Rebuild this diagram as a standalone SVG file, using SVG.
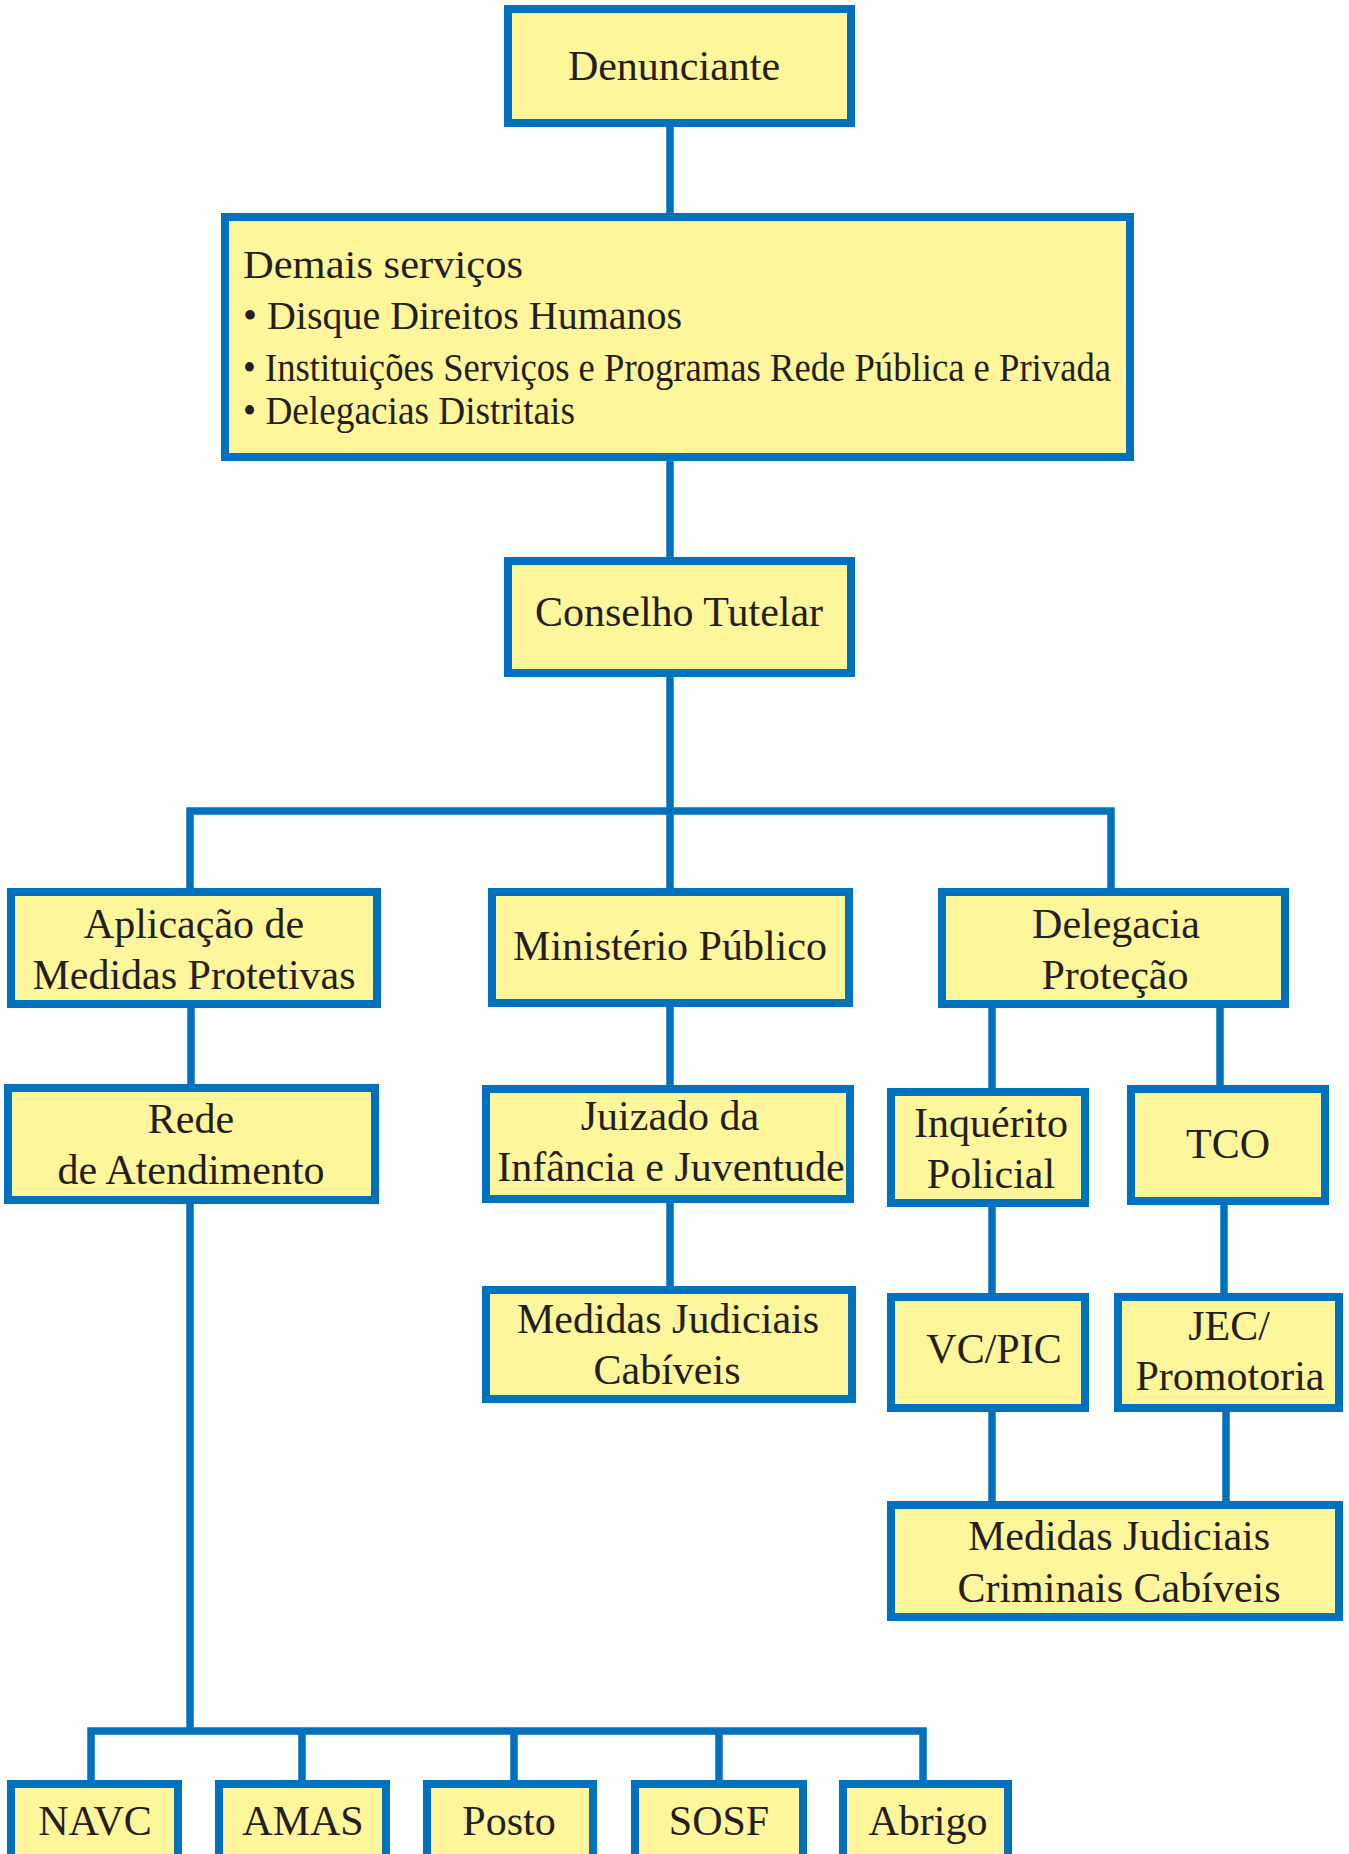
<svg xmlns="http://www.w3.org/2000/svg" width="1349" height="1854" viewBox="0 0 1349 1854">
<style>
.box{fill:#FFF59B;stroke:#0071BC;stroke-width:8}
.ln{fill:none;stroke:#0071BC;stroke-width:7.5;stroke-linejoin:miter;stroke-linecap:butt}
.t{font-family:"Liberation Serif","Times New Roman",serif;font-size:42px;fill:#231F20;text-anchor:middle}
.tl{font-family:"Liberation Serif","Times New Roman",serif;font-size:40px;fill:#231F20}
</style>
<rect width="1349" height="1854" fill="#FFFFFF"/>
<g id="connectors">
<path class="ln" d="M670 127V213"/>
<path class="ln" d="M670 461V557"/>
<path class="ln" d="M670 677V888"/>
<path class="ln" d="M190 888V811H1111V888"/>
<path class="ln" d="M191 1008V1084"/>
<path class="ln" d="M670 1007V1085"/>
<path class="ln" d="M670 1203V1286"/>
<path class="ln" d="M992 1008V1088"/>
<path class="ln" d="M1220 1008V1085"/>
<path class="ln" d="M992 1207V1293"/>
<path class="ln" d="M1224 1205V1293"/>
<path class="ln" d="M992 1412V1501"/>
<path class="ln" d="M1226 1412V1501"/>
<path class="ln" d="M190 1204V1731"/>
<path class="ln" d="M91 1780V1731H923V1780"/>
<path class="ln" d="M302 1731V1780"/>
<path class="ln" d="M514 1731V1780"/>
<path class="ln" d="M719 1731V1780"/>
</g>
<g id="denunciante"><rect class="box" x="508" y="9" width="343" height="114"/><text class="t" x="674" y="80">Denunciante</text></g>
<g id="demais-servicos"><rect class="box" x="225" y="217" width="905" height="240"/>
<text class="tl" x="243" y="278" font-size="42" textLength="280" lengthAdjust="spacingAndGlyphs">Demais serviços</text>
<text class="tl" x="243" y="329" textLength="439" lengthAdjust="spacingAndGlyphs">• Disque Direitos Humanos</text>
<text class="tl" x="243" y="381" textLength="868" lengthAdjust="spacingAndGlyphs">• Instituições Serviços e Programas Rede Pública e Privada</text>
<text class="tl" x="243" y="424" textLength="332" lengthAdjust="spacingAndGlyphs">• Delegacias Distritais</text>
</g>
<g id="conselho-tutelar"><rect class="box" x="508" y="561" width="343" height="112"/><text class="t" x="679" y="626">Conselho Tutelar</text></g>
<g id="aplicacao"><rect class="box" x="11" y="892" width="366" height="112"/><text class="t" x="194" y="938">Aplicação de</text><text class="t" x="194" y="989">Medidas Protetivas</text></g>
<g id="ministerio-publico"><rect class="box" x="492" y="892" width="357" height="111"/><text class="t" x="670" y="960">Ministério Público</text></g>
<g id="delegacia-protecao"><rect class="box" x="942" y="892" width="343" height="112"/><text class="t" x="1116" y="938">Delegacia</text><text class="t" x="1115" y="989">Proteção</text></g>
<g id="rede-atendimento"><rect class="box" x="8" y="1088" width="367" height="112"/><text class="t" x="191" y="1133">Rede</text><text class="t" x="191" y="1184">de Atendimento</text></g>
<g id="juizado"><rect class="box" x="486" y="1089" width="364" height="110"/><text class="t" x="670" y="1130">Juizado da</text><text class="t" x="671" y="1181">Infância e Juventude</text></g>
<g id="inquerito"><rect class="box" x="891" y="1092" width="194" height="111"/><text class="t" x="991" y="1137">Inquérito</text><text class="t" x="991" y="1188">Policial</text></g>
<g id="tco"><rect class="box" x="1131" y="1089" width="194" height="112"/><text class="t" x="1228" y="1158">TCO</text></g>
<g id="medidas-judiciais"><rect class="box" x="486" y="1290" width="366" height="109"/><text class="t" x="668" y="1333">Medidas Judiciais</text><text class="t" x="667" y="1384">Cabíveis</text></g>
<g id="vc-pic"><rect class="box" x="891" y="1297" width="194" height="111"/><text class="t" x="994" y="1363">VC/PIC</text></g>
<g id="jec-promotoria"><rect class="box" x="1118" y="1297" width="221" height="111"/><text class="t" x="1229" y="1340">JEC/</text><text class="t" x="1230" y="1390">Promotoria</text></g>
<g id="medidas-criminais"><rect class="box" x="891" y="1505" width="448" height="112"/><text class="t" x="1119" y="1550">Medidas Judiciais</text><text class="t" x="1119" y="1602">Criminais Cabíveis</text></g>
<g id="navc"><rect class="box" x="11" y="1784" width="167" height="80"/><text class="t" x="95" y="1835">NAVC</text></g>
<g id="amas"><rect class="box" x="219" y="1784" width="167" height="80"/><text class="t" x="303" y="1835">AMAS</text></g>
<g id="posto"><rect class="box" x="427" y="1784" width="166" height="80"/><text class="t" x="509" y="1835">Posto</text></g>
<g id="sosf"><rect class="box" x="635" y="1784" width="168" height="80"/><text class="t" x="719" y="1835">SOSF</text></g>
<g id="abrigo"><rect class="box" x="843" y="1784" width="165" height="80"/><text class="t" x="928" y="1835">Abrigo</text></g>
</svg>
